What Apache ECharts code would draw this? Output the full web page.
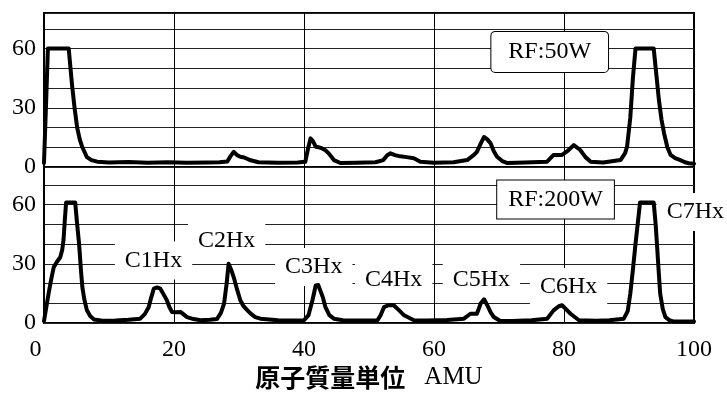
<!DOCTYPE html>
<html>
<head>
<meta charset="utf-8">
<script src="https://cdn.jsdelivr.net/npm/echarts@6/dist/echarts.min.js"></script>
<style>
  html, body { margin: 0; padding: 0; background: #fff; }
  #chart { width: 727px; height: 397px; }
</style>
</head>
<body>
<div id="chart"></div>
<script>
// RF:50W spectrum (mass, intensity)
var mass50 = [0, 0.2, 0.4, 0.6, 3.8, 4.3, 4.7, 5.1, 5.5, 5.9, 6.6, 7.3, 8.2, 10, 13, 16, 19, 22, 25, 27, 28.2, 28.7, 29.2, 29.7, 30.2, 30.8, 31.8, 33, 36, 39, 40.2, 40.6, 41, 41.4, 41.8, 42.3, 42.8, 43.3, 43.8, 44.6, 45.6, 48, 51, 52.2, 52.8, 53.3, 54, 54.8, 55.8, 56.9, 57.9, 60, 63, 65.1, 66.1, 66.6, 67.2, 67.7, 68.2, 68.7, 69.2, 69.7, 70.5, 71.3, 74, 77.4, 78.4, 79.7, 80.5, 81.5, 82.5, 83.3, 84.1, 86, 88.7, 89.4, 89.7, 90.2, 90.6, 91, 93.8, 94.2, 94.6, 95, 95.4, 95.9, 96.4, 97.1, 97.9, 98.6, 99.2, 100];
var signal50 = [2, 2, 40, 60, 60, 42, 30, 20, 14, 10, 5, 3.5, 2.7, 2.3, 2.5, 2.2, 2.4, 2.2, 2.3, 2.4, 2.8, 5.5, 7.7, 6, 5.2, 4.8, 3.4, 2.4, 2.2, 2.3, 2.6, 9, 14.5, 13, 10.3, 10, 9.4, 8.5, 6.9, 3.5, 2, 2.1, 2.4, 3.5, 6, 6.9, 6, 5.4, 5, 4.4, 2.7, 2.2, 2.4, 3.5, 6, 7.7, 12, 15.2, 14, 12, 8, 5.2, 3, 2, 2.3, 2.7, 6.1, 6.1, 8, 11.1, 8.6, 5, 2.7, 2.3, 3.5, 7, 10.3, 25, 45, 60, 60, 47, 34, 24, 17, 10, 6.1, 4.5, 3.5, 2.4, 1.9, 1.6];

// RF:200W spectrum
var mass200 = [0, 0.2, 0.7, 1.1, 1.5, 2, 2.5, 2.8, 3.0, 3.2, 3.4, 4.8, 5.1, 5.4, 5.7, 5.9, 6.2, 6.6, 7.1, 7.7, 9, 11, 13, 14.8, 15.5, 16.1, 16.5, 16.9, 17.4, 17.9, 18.4, 18.9, 19.3, 19.7, 20.3, 21, 22, 23, 24.1, 25.5, 26.6, 27.2, 27.7, 28.1, 28.4, 28.8, 29.2, 29.7, 30.2, 30.7, 31.3, 31.8, 32.5, 33.3, 36, 38, 40, 40.7, 41.3, 41.8, 42.2, 42.5, 42.9, 43.3, 43.9, 44.6, 46, 49, 51.3, 51.8, 52.3, 53, 53.8, 54.6, 55.4, 56.9, 59, 62, 64.6, 65.6, 66.6, 67.2, 67.7, 68.2, 68.7, 69.2, 70.2, 72, 75, 77.4, 78.4, 79.2, 79.7, 80.3, 81, 82.3, 85, 87, 89.2, 89.8, 90.2, 90.6, 91, 91.4, 91.7, 93.8, 94.1, 94.3, 94.55, 94.8, 95.2, 95.6, 96.2, 96.9, 100];
var signal200 = [1, 2, 14.8, 22, 28.3, 31, 33.3, 37, 42, 52, 61, 61, 50, 40, 26, 18.2, 12, 6.4, 3.5, 1.8, 1.2, 1.3, 1.6, 2.2, 4.5, 8, 13, 17.4, 18, 17.4, 14.5, 11.5, 8, 5.6, 5.4, 5.6, 3, 2, 1.4, 1.6, 2, 5, 9.8, 20, 30, 27, 23, 17, 11.5, 8.5, 6.4, 4.7, 3, 2.2, 1.4, 1.3, 1.4, 4, 11.5, 19, 19.2, 18.5, 13, 8, 4, 2.2, 1.4, 1.3, 1.4, 4, 8, 9, 9, 6.5, 3.9, 1.4, 1.3, 1.5, 2.2, 4.7, 4.7, 10, 12, 9, 5.5, 3, 1, 1, 1.4, 2.2, 6.4, 8.5, 9, 7, 4.7, 1.4, 1.2, 1.4, 2.2, 6, 14.8, 27, 40, 52, 61, 61, 50, 40, 27, 14.8, 7, 3, 1.5, 0.7, 0.7];

// peak labels (bottom panel)
var peakNames = ['C1Hx', 'C2Hx', 'C3Hx', 'C4Hx', 'C5Hx', 'C6Hx', 'C7Hx'];
var peakMass = [16.85, 28.1, 41.5, 53.8, 67.3, 80.7, 100.2];
var peakHeight = [31.7, 41.9, 28.4, 22, 22.1, 18.2, 56.2];

// RF power boxes
var rfNames = ['RF:50W', 'RF:200W'];
var rfMass = [77.8, 78.7];
var rfHeight = [58.3, 62.6];

var yLabelTicks = [0, 30, 60];

function zip(xs, ys) {
  return xs.map(function (x, i) { return [x, ys[i]]; });
}

var serif = 'Liberation Serif';
var chart = echarts.init(document.getElementById('chart'));

var yAxisBase = function (gridIndex, max) {
  return {
    type: 'value',
    gridIndex: gridIndex,
    min: 0,
    max: max,
    interval: 10,
    axisLine: { show: false },
    axisTick: { show: false },
    splitLine: { show: true, lineStyle: { color: '#222', width: 1 } },
    axisLabel: {
      margin: 8,
      color: '#000',
      fontFamily: serif,
      fontSize: 24,
      formatter: function (v) {
        return yLabelTicks.indexOf(v) >= 0 ? String(v) : '';
      }
    }
  };
};

// invisible anchor points, only the white text boxes are drawn
var textSeries = function (gridIndex, z, points, labelStyle) {
  return {
    type: 'scatter', xAxisIndex: gridIndex, yAxisIndex: gridIndex, z: z,
    clip: false,
    symbolSize: 1,
    itemStyle: { color: '#fff', opacity: 1 },
    emphasis: { disabled: true },
    silent: true,
    data: points,
    label: Object.assign({
      show: true,
      position: 'inside',
      formatter: function (p) { return p.data[2]; },
      backgroundColor: '#fff',
      color: '#000',
      opacity: 1,
      fontFamily: serif,
      fontSize: 24
    }, labelStyle)
  };
};

var option = {
  animation: false,
  backgroundColor: '#fff',
  grid: [
    { left: 44, right: 33, top: 13, height: 154, show: true, borderColor: '#000', borderWidth: 2 },
    { left: 44, right: 33, top: 167, height: 156, show: true, borderColor: '#000', borderWidth: 2 }
  ],
  xAxis: [
    {
      type: 'value', gridIndex: 0, min: 0, max: 100, interval: 20,
      axisLine: { show: false }, axisTick: { show: false }, axisLabel: { show: false },
      splitLine: { show: true, lineStyle: { color: '#000', width: 1 } }
    },
    {
      type: 'value', gridIndex: 1, min: 0, max: 100, interval: 20,
      axisLine: { show: false }, axisTick: { show: false },
      splitLine: { show: true, lineStyle: { color: '#000', width: 1 } },
      axisLabel: {
        margin: 15,
        color: '#000',
        fontFamily: serif,
        fontSize: 24,
        formatter: function (v) { return v === 0 ? '{z|0}' : String(v); },
        rich: { z: { fontFamily: serif, fontSize: 24, color: '#000', padding: [0, 17, 0, 0] } }
      },
      name: '{a|原子質量単位}{b|AMU}',
      nameLocation: 'middle',
      nameGap: 42,
      nameTextStyle: {
        rich: {
          a: { fontFamily: 'Noto Sans CJK JP', fontWeight: 'bold', fontSize: 25, color: '#000' },
          b: { fontFamily: serif, fontSize: 25, color: '#000', padding: [0, 0, 0, 19] }
        }
      }
    }
  ],
  yAxis: [yAxisBase(0, 78), yAxisBase(1, 79)],
  series: [
    {
      type: 'line', xAxisIndex: 0, yAxisIndex: 0, z: 3,
      showSymbol: false,
      data: zip(mass50, signal50),
      lineStyle: { color: '#000', width: 4, join: 'round', cap: 'round' }
    },
    {
      type: 'line', xAxisIndex: 1, yAxisIndex: 1, z: 3,
      showSymbol: false,
      data: zip(mass200, signal200),
      lineStyle: { color: '#000', width: 4, join: 'round', cap: 'round' }
    },
    textSeries(1, 1,
      peakNames.map(function (n, i) { return [peakMass[i], peakHeight[i], n]; }),
      { padding: [7, 10] }),
    textSeries(0, 4, [[rfMass[0], rfHeight[0], rfNames[0]]],
      { borderColor: '#000', borderWidth: 1, borderRadius: 4, padding: [8, 17] }),
    textSeries(1, 4, [[rfMass[1], rfHeight[1], rfNames[1]]],
      { borderColor: '#000', borderWidth: 1, padding: [7, 11] })
  ]
};

chart.setOption(option);
</script>
</body>
</html>
